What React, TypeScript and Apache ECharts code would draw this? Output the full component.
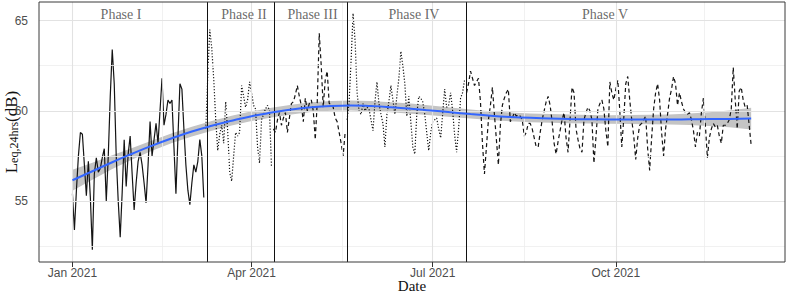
import React, { useEffect, useRef } from "react";
import * as echarts from "echarts";

// Days are counted from 1 Jan 2021 (day 0)
const phase1Start = 0;
const phase1 = [55.4, 53.4, 55.6, 57.5, 58.8, 58.7, 57.0, 55.3, 57.2, 55.2, 52.3, 56.5, 57.4, 56.6, 56.8, 57.4, 57.9, 55.0, 57.5, 60.8, 63.4, 61.5, 57.5, 55.0, 53.0, 55.5, 58.4, 55.8, 57.6, 58.6, 56.5, 54.5, 56.0, 57.2, 57.7, 57.0, 56.0, 54.9, 57.0, 59.4, 57.5, 58.4, 59.3, 58.2, 60.0, 61.8, 59.2, 59.8, 60.6, 60.4, 60.6, 58.0, 55.4, 58.5, 61.5, 61.2, 59.0, 57.0, 55.6, 54.8, 56.0, 57.0, 56.6, 57.2, 58.4, 57.5, 55.2];

const phase2Start = 67;
const phase2 = [59.0, 62.0, 64.5, 63.5, 61.7, 59.5, 57.8, 58.7, 59.2, 58.2, 60.5, 58.9, 56.6, 56.1, 57.5, 58.8, 58.6, 58.8, 61.4, 60.8, 60.2, 60.6, 61.6, 61.0, 60.3, 60.1, 58.0, 57.1, 59.5, 59.8, 60.1, 60.3, 60.0, 56.9];

const phase3Start = 101;
const phase3 = [59.0, 58.8, 59.5, 59.9, 59.2, 59.6, 59.9, 58.8, 59.6, 60.4, 60.5, 60.9, 61.4, 60.8, 60.3, 59.4, 60.7, 60.0, 60.4, 60.6, 60.0, 58.4, 60.5, 64.3, 62.5, 60.2, 61.7, 62.2, 60.4, 60.4, 60.2, 59.6, 59.4, 58.8, 58.2, 57.5, 58.8];

const phase4Start = 138;
const phase4 = [59.5, 60.5, 62.8, 65.4, 63.9, 61.0, 60.0, 59.8, 60.4, 60.0, 60.2, 60.1, 59.5, 58.9, 60.5, 61.6, 60.4, 59.8, 59.3, 58.0, 59.8, 60.5, 61.4, 60.6, 59.8, 60.8, 61.8, 63.3, 62.5, 61.5, 59.7, 60.8, 59.4, 58.0, 57.6, 59.8, 60.8, 60.7, 60.5, 59.8, 58.8, 57.8, 58.8, 59.4, 59.5, 59.6, 59.0, 58.5, 59.8, 61.2, 60.2, 60.3, 61.0, 60.0, 58.7, 57.7, 59.0, 60.7, 61.0, 61.7];

const phase5Start = 198;
const phase5 = [
  61.0, 61.5, 62.2, 61.8, 61.4, 61.6, 61.8, 60.5, 58.2, 56.5,
  58.0, 59.5, 60.3, 61.3, 59.8, 58.4, 57.0, 59.2, 60.3, 60.7,
  61.0, 61.2, 59.4, 59.6, 59.9, 59.7, 59.8, 59.7, 59.5, 58.6,
  58.8, 59.3, 59.3, 59.0, 58.5, 58.0, 58.0, 58.8, 59.5, 60.0,
  60.5, 60.8, 60.3, 59.4, 58.2, 57.6, 58.3, 58.9, 59.5, 59.9,
  58.5, 57.7, 59.5, 61.3, 61.0, 59.0, 58.4, 57.9, 57.7, 59.5,
  59.9, 60.2, 60.0, 59.5, 57.1, 58.5, 60.1, 60.4, 60.6, 60.1,
  58.9, 58.0, 61.6, 61.0, 60.6, 61.2, 61.7, 60.0, 58.0, 59.6,
  61.5, 61.9, 60.6, 59.5, 58.6, 57.3, 58.5, 59.2, 59.3, 59.5,
  59.7, 57.9, 56.7, 58.5, 60.1, 61.0, 61.5, 60.6, 58.8, 57.5,
  59.0, 59.8, 60.7, 61.2, 61.9, 61.5, 60.3, 61.0, 60.5, 60.1,
  59.9, 59.8, 59.9, 59.5, 58.9, 58.0, 58.8, 58.6, 59.9, 60.7,
  59.2, 57.4, 58.5, 59.0, 59.3, 59.1, 59.2, 58.6, 58.2, 59.2,
  59.2, 59.3, 59.5, 60.1, 62.4, 60.6, 59.0, 61.1, 61.3, 60.6,
  60.2, 60.3, 59.2, 58.1,
];

const smoothDays = [0, 10, 20, 30, 40, 50, 60, 70, 80, 90, 100, 110, 120, 130, 140, 150, 160, 170, 180, 190, 200, 210, 220, 230, 240, 250, 260, 270, 280, 290, 300, 310, 320, 330, 341];
const smoothValues = [56.15, 56.65, 57.15, 57.62, 58.07, 58.48, 58.85, 59.17, 59.45, 59.7, 59.9, 60.07, 60.2, 60.27, 60.29, 60.26, 60.2, 60.12, 60.02, 59.92, 59.82, 59.73, 59.66, 59.61, 59.58, 59.55, 59.53, 59.52, 59.52, 59.52, 59.52, 59.53, 59.54, 59.55, 59.57];
const bandHalfWidth = [0.58, 0.47, 0.38, 0.32, 0.29, 0.27, 0.27, 0.27, 0.27, 0.27, 0.27, 0.27, 0.27, 0.27, 0.28, 0.28, 0.28, 0.28, 0.27, 0.26, 0.25, 0.24, 0.24, 0.24, 0.24, 0.24, 0.24, 0.24, 0.25, 0.26, 0.28, 0.32, 0.38, 0.46, 0.6];

const phaseNames = ["Phase I", "Phase II", "Phase III", "Phase IV", "Phase V"];
const phaseLabelDays = [24.4, 86.2, 120.6, 171.6, 267.6];
const phaseLabelValue = 65.33;
const phaseBoundaries = [67.8, 101.5, 138, 198];

const xTickDays = [0, 90, 181, 273];
const xTickLabels = ["Jan 2021", "Apr 2021", "Jul 2021", "Oct 2021"];
const xMinorDays = [45, 135.5, 227, 317.5];
const yTicks = [55, 60, 65];
const yMinor = [52.5, 57.5, 62.5];

const X_MIN = -16.8;
const X_MAX = 358;
const Y_MIN = 51.62;
const Y_MAX = 66.03;

const toPoints = (start: number, arr: number[]) => arr.map((v, i) => [start + i, v]);

export default function App() {
  const ref = useRef<HTMLDivElement>(null);
  useEffect(() => {
    if (!ref.current) return;
    const chart = echarts.init(ref.current, null, { renderer: "svg" });
    const lineColor = "#141414";
    const phaseLine = (name: string, start: number, arr: number[], type: any) => ({
      name,
      type: "line",
      data: toPoints(start, arr),
      symbol: "none",
      z: 4,
      silent: true,
      lineStyle: { color: lineColor, width: 1.2, type },
    });
    const majorGrid = { color: "#e2e2e2", width: 1.1, type: "solid" };
    const minorGrid = { color: "#eeeeee", width: 0.8, type: "solid" };
    chart.setOption({
      animation: false,
      backgroundColor: "#ffffff",
      grid: {
        left: 39,
        right: 2,
        top: 2,
        bottom: 31,
        containLabel: false,
        outerBoundsMode: "none",
        show: true,
        borderColor: "#3a3a3a",
        borderWidth: 1,
        backgroundColor: "transparent",
        z: 10,
      },
      xAxis: {
        type: "value",
        min: X_MIN,
        max: X_MAX,
        axisLine: { show: false },
        splitLine: { show: false },
        axisTick: { show: true, length: 5, customValues: xTickDays, lineStyle: { color: "#333" } },
        axisLabel: {
          customValues: xTickDays,
          formatter: (v: number) => xTickLabels[xTickDays.indexOf(v)] ?? "",
          color: "#4d4d4d",
          fontSize: 12,
          fontFamily: "Liberation Sans",
          margin: 5,
        },
        name: "Date",
        nameLocation: "middle",
        nameGap: 16,
        nameMoveOverlap: false,
        nameTextStyle: { fontFamily: "Liberation Serif", fontSize: 15, color: "#111" },
      },
      yAxis: {
        type: "value",
        min: Y_MIN,
        max: Y_MAX,
        axisLine: { show: false },
        splitLine: { show: false },
        axisTick: { show: true, length: 5, customValues: yTicks, lineStyle: { color: "#333" } },
        axisLabel: {
          customValues: yTicks,
          formatter: (v: number) => String(v),
          color: "#4d4d4d",
          fontSize: 12,
          fontFamily: "Liberation Sans",
          margin: 11,
        },
        name: "{a|L}{b|eq,24hrs}{a|(dB)}",
        nameLocation: "middle",
        nameRotate: 90,
        nameGap: 19,
        nameMoveOverlap: false,
        nameTextStyle: {
          rich: {
            a: { fontFamily: "Liberation Serif", fontSize: 17, color: "#111", lineHeight: 20, verticalAlign: "bottom" },
            b: { fontFamily: "Liberation Serif", fontSize: 12, color: "#111", lineHeight: 9, verticalAlign: "bottom" },
          },
        },
      },
      series: [
        {
          name: "grid",
          type: "line",
          data: [[0, 60]],
          symbol: "none",
          lineStyle: { width: 0, opacity: 0 },
          silent: true,
          z: 1,
          markLine: {
            silent: true,
            symbol: ["none", "none"],
            label: { show: false },
            animation: false,
            data: [
              ...xMinorDays.map((d) => ({ xAxis: d, lineStyle: minorGrid })),
              ...yMinor.map((v) => ({ yAxis: v, lineStyle: minorGrid })),
              ...xTickDays.map((d) => ({ xAxis: d, lineStyle: majorGrid })),
              ...yTicks.map((v) => ({ yAxis: v, lineStyle: majorGrid })),
            ],
          },
        },
        {
          name: "band",
          type: "custom",
          silent: true,
          z: 2,
          data: [[0, 56]],
          renderItem: (params: any, api: any) => {
            if (params.dataIndex !== 0) return null;
            const pts: number[][] = [];
            for (let i = 0; i < smoothDays.length; i++) {
              pts.push(api.coord([smoothDays[i], smoothValues[i] + bandHalfWidth[i]]));
            }
            for (let i = smoothDays.length - 1; i >= 0; i--) {
              pts.push(api.coord([smoothDays[i], smoothValues[i] - bandHalfWidth[i]]));
            }
            return { type: "polygon", shape: { points: pts }, style: { fill: "#c4c4c4" } };
          },
        },
        phaseLine("Phase I", phase1Start, phase1, "solid"),
        phaseLine("Phase II", phase2Start, phase2, [1.2, 1.8]),
        phaseLine("Phase III", phase3Start, phase3, [4, 3]),
        phaseLine("Phase IV", phase4Start, phase4, [1.2, 1.8]),
        phaseLine("Phase V", phase5Start, phase5, [4, 3]),
        {
          name: "boundaries",
          type: "line",
          data: [[0, 60]],
          symbol: "none",
          lineStyle: { width: 0, opacity: 0 },
          silent: true,
          z: 5,
          markLine: {
            silent: true,
            symbol: ["none", "none"],
            label: { show: false },
            animation: false,
            lineStyle: { color: "#111", width: 1, type: "solid" },
            data: phaseBoundaries.map((d) => ({ xAxis: d })),
          },
        },
        {
          name: "smooth",
          type: "line",
          data: smoothDays.map((d, i) => [d, smoothValues[i]]),
          smooth: true,
          symbol: "none",
          silent: true,
          z: 6,
          lineStyle: { color: "#3366ff", width: 2 },
        },
        {
          name: "labels",
          type: "scatter",
          symbolSize: 0,
          silent: true,
          z: 7,
          data: phaseNames.map((n, i) => ({ name: n, value: [phaseLabelDays[i], phaseLabelValue] })),
          label: {
            show: true,
            position: "inside",
            formatter: "{b}",
            fontFamily: "Liberation Serif",
            fontSize: 14,
            color: "#444",
          },
        },
      ],
    });
    return () => chart.dispose();
  }, []);
  return (
    <div
      ref={ref}
      style={{ position: "fixed", left: 0, top: 0, width: 787, height: 293, background: "#fff" }}
    />
  );
}
